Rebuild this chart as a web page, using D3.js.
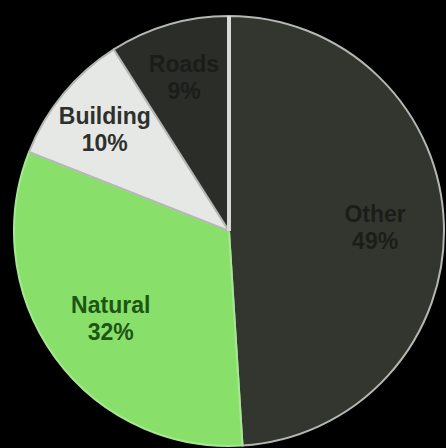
<!DOCTYPE html>
<html>
<head>
<meta charset="utf-8">
<script src="https://cdn.jsdelivr.net/npm/d3@7"></script>
<style>
  html, body { margin: 0; padding: 0; background: #000; }
  svg { display: block; }
</style>
</head>
<body>
<div id="chart"></div>
<script>
// slice data, clockwise from 12 o'clock
const categories = ["Other", "Natural", "Building", "Roads"];
const values = [49, 32, 10, 9];
const fills = ["#33362f", "#88e06b", "#e6e8e6", "#2a2d28"];
const textColors = ["#1b1d19", "#1d5513", "#2e302d", "#1b1d19"];

function drawPie() {
    let width = 446, height = 448;
    let cx = 229, cy = 231, radius = 215;

    let svg = d3.select("#chart").append("svg")
        .attr("width", width).attr("height", height);
    svg.append("rect").attr("width", width).attr("height", height).attr("fill", "#000");

    let g = svg.append("g").attr("transform", `translate(${cx},${cy})`);

    let pie = d3.pie().sort(null).value(d => d.value);
    let data = categories.map((c, i) => ({ name: c, value: values[i], fill: fills[i], text: textColors[i] }));
    let arcs = pie(data);

    let arc = d3.arc().innerRadius(0).outerRadius(radius);

    g.selectAll(".slice").data(arcs).enter().append("path")
        .attr("d", arc)
        .attr("fill", d => d.data.fill)
        .attr("stroke", d => d.data.name === "Natural" ? "#a6e892" : "#b5b7b3")
        .attr("stroke-width", 2)
        .attr("stroke-linejoin", "round");

    // bright divider at the start angle
    g.append("line")
        .attr("x1", 0).attr("y1", 0)
        .attr("x2", 0).attr("y2", -radius)
        .attr("stroke", "#d8dad6")
        .attr("stroke-width", 4);

    // small slices sit a little further out
    let labelR = d => (d.data.value < 15 ? 0.75 : 0.68) * radius;

    let labels = g.selectAll(".label").data(arcs).enter().append("text")
        .attr("transform", d => {
            let a = d3.arc().innerRadius(labelR(d)).outerRadius(labelR(d));
            let [x, y] = a.centroid(d);
            return `translate(${x},${y})`;
        })
        .attr("text-anchor", "middle")
        .attr("font-family", "'Liberation Sans', Arial, sans-serif")
        .attr("font-weight", "bold")
        .attr("font-size", 23)
        .attr("fill", d => d.data.text);

    labels.append("tspan").attr("x", 0).attr("dy", -4).text(d => d.data.name);
    labels.append("tspan").attr("x", 0).attr("dy", 27).text(d => d.data.value + "%");
}

drawPie();
</script>
</body>
</html>
